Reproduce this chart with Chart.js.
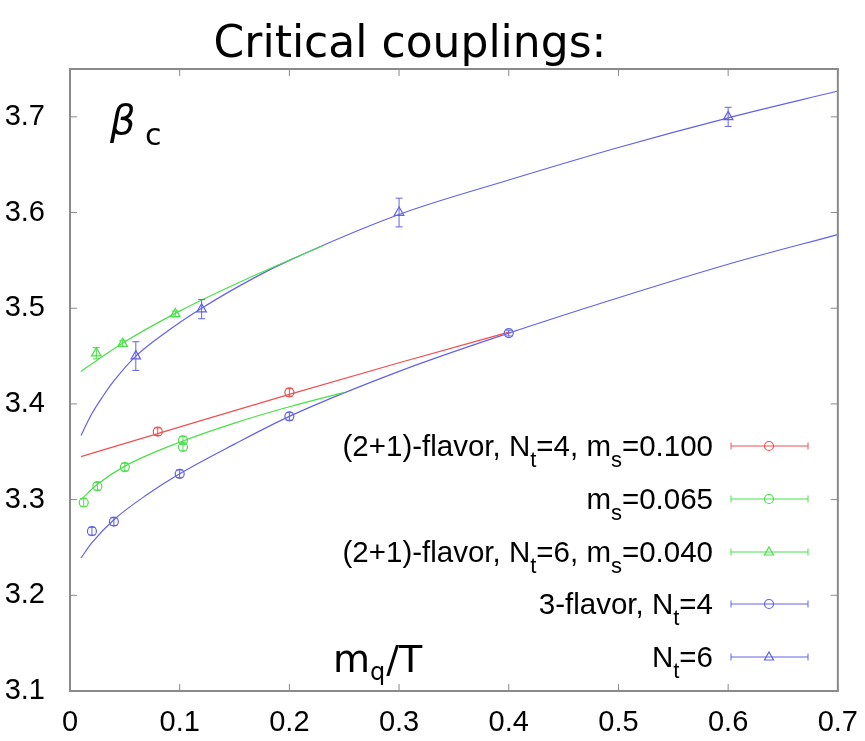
<!DOCTYPE html>
<html>
<head>
<meta charset="utf-8">
<script src="https://cdn.jsdelivr.net/npm/chart.js@4.4.0/dist/chart.umd.min.js"></script>
<style>
  html, body { margin: 0; padding: 0; background: #fff; }
  #wrap { width: 865px; height: 741px; }
</style>
</head>
<body>
<div id="wrap"><canvas id="betaChart" width="865" height="741"></canvas></div>
<script>
// axis ticks
const xTickLabels = ['0', '0.1', '0.2', '0.3', '0.4', '0.5', '0.6', '0.7'];
const yTickLabels = ['3.1', '3.2', '3.3', '3.4', '3.5', '3.6', '3.7'];

// (2+1)-flavor, Nt=4, ms=0.100  (red circles)
const redX = [0.08, 0.2];
const redY = [3.371, 3.412];
const redErr = [0.004, 0.004];
const redFitX = [0.01, 0.08, 0.2, 0.3, 0.4];
const redFitY = [3.345, 3.369, 3.410, 3.443, 3.475];

// ms=0.065  (green circles)
const grnCircX = [0.0125, 0.025, 0.05, 0.103, 0.103];
const grnCircY = [3.297, 3.314, 3.334, 3.362, 3.355];
const grnCircErr = [0.004, 0.004, 0.004, 0.004, 0.004];
const grnCircFitX = [0.01, 0.025, 0.05, 0.1, 0.15, 0.2, 0.25];
const grnCircFitY = [3.300, 3.316, 3.335, 3.360, 3.380, 3.397, 3.412];

// (2+1)-flavor, Nt=6, ms=0.040  (green triangles)
const grnTriX = [0.024, 0.048, 0.096];
const grnTriY = [3.453, 3.463, 3.494];
const grnTriErr = [0.006, 0.003, 0.003];
const grnTriFitX = [0.01, 0.025, 0.05, 0.1, 0.16, 0.23];
const grnTriFitY = [3.434, 3.446, 3.465, 3.497, 3.530, 3.565];

// 3-flavor, Nt=4  (blue circles)
const bluCircX = [0.02, 0.04, 0.1, 0.2, 0.4];
const bluCircY = [3.267, 3.277, 3.327, 3.387, 3.474];
const bluCircErr = [0.004, 0.004, 0.004, 0.004, 0.003];
const bluCircFitX = [0.01, 0.02, 0.04, 0.07, 0.1, 0.15, 0.2, 0.3, 0.4, 0.5, 0.6, 0.7];
const bluCircFitY = [3.239, 3.255, 3.279, 3.305, 3.327, 3.358, 3.387, 3.434, 3.474, 3.511, 3.546, 3.577];

// 3-flavor, Nt=6  (blue triangles)
const bluTriX = [0.06, 0.12, 0.3, 0.6];
const bluTriY = [3.450, 3.499, 3.600, 3.700];
const bluTriErr = [0.015, 0.01, 0.015, 0.01];
const bluTriFitX = [0.01, 0.02, 0.03, 0.04, 0.06, 0.09, 0.12, 0.17, 0.2, 0.3, 0.4, 0.5, 0.6, 0.7];
const bluTriFitY = [3.367, 3.390, 3.408, 3.424, 3.450, 3.477, 3.500, 3.533, 3.550, 3.598, 3.634, 3.668, 3.699, 3.727];

const legendLabels = [
    '(2+1)-flavor, N_t=4, m_s=0.100',
    'm_s=0.065',
    '(2+1)-flavor, N_t=6, m_s=0.040',
    '3-flavor, N_t=4',
    'N_t=6'
];

const RED = '#f05050';
const GREEN = '#48e048';
const BLUE = '#6262e6';
const SANS = '"Liberation Sans", Arial, sans-serif';

const pts = (xs, ys) => xs.map((x, i) => ({ x: x, y: ys[i] }));

function fitSet(xs, ys, color) {
    return {
        data: pts(xs, ys),
        showLine: true,
        borderColor: color,
        borderWidth: 1.2,
        pointRadius: 0,
        cubicInterpolationMode: 'monotone',
        fill: false
    };
}

function pointSet(xs, ys, errs, color, style) {
    return {
        data: pts(xs, ys),
        errs: errs,
        showLine: false,
        borderColor: color,
        backgroundColor: 'rgba(0,0,0,0)',
        borderWidth: 1.2,
        pointStyle: style,
        pointRadius: style === 'triangle' ? 5.5 : 4.5
    };
}

const seriesInfo = [
    { color: RED, style: 'circle' },
    { color: GREEN, style: 'circle' },
    { color: GREEN, style: 'triangle' },
    { color: BLUE, style: 'circle' },
    { color: BLUE, style: 'triangle' }
];

// draw a text with _x subscripts, right aligned at xr
function drawSubText(ctx, str, xr, yBase, size, subSize, family) {
    const parts = str.split(/_(\w)/);
    const items = parts.map((p, i) => ({ t: p, sub: i % 2 === 1 }));
    let total = 0;
    items.forEach(it => {
        ctx.font = (it.sub ? subSize : size) + 'px ' + family;
        it.w = ctx.measureText(it.t).width;
        total += it.w;
    });
    let x = xr - total;
    items.forEach(it => {
        ctx.font = (it.sub ? subSize : size) + 'px ' + family;
        ctx.fillText(it.t, x, yBase + (it.sub ? size * 0.36 : 0));
        x += it.w;
    });
}

function drawMarker(ctx, style, x, y, r) {
    ctx.beginPath();
    if (style === 'circle') {
        ctx.arc(x, y, r, 0, Math.PI * 2);
    } else {
        ctx.moveTo(x, y - r);
        ctx.lineTo(x + r * 0.9, y + r * 0.6);
        ctx.lineTo(x - r * 0.9, y + r * 0.6);
        ctx.closePath();
    }
    ctx.stroke();
}

const decorPlugin = {
    id: 'decor',
    beforeDraw(chart) {
        const ctx = chart.ctx;
        ctx.save();
        ctx.fillStyle = '#fff';
        ctx.fillRect(0, 0, chart.width, chart.height);
        ctx.restore();
    },
    afterDatasetsDraw(chart) {
        const ctx = chart.ctx;
        const a = chart.chartArea;
        const xs = chart.scales.x, ys = chart.scales.y;
        ctx.save();

        // error bars
        chart.data.datasets.forEach(ds => {
            if (!ds.errs) return;
            ctx.strokeStyle = ds.borderColor;
            ctx.lineWidth = 1;
            ds.data.forEach((p, i) => {
                const px = xs.getPixelForValue(p.x);
                const y1 = ys.getPixelForValue(p.y - ds.errs[i]);
                const y2 = ys.getPixelForValue(p.y + ds.errs[i]);
                ctx.beginPath();
                ctx.moveTo(px, y1); ctx.lineTo(px, y2);
                ctx.moveTo(px - 3.5, y1); ctx.lineTo(px + 3.5, y1);
                ctx.moveTo(px - 3.5, y2); ctx.lineTo(px + 3.5, y2);
                ctx.stroke();
            });
        });

        // frame and inward ticks
        ctx.strokeStyle = '#8a8a8a';
        ctx.lineWidth = 2;
        ctx.strokeRect(a.left, a.top, a.right - a.left, a.bottom - a.top);
        ctx.lineWidth = 1;
        ctx.beginPath();
        xTickLabels.forEach(t => {
            const px = xs.getPixelForValue(parseFloat(t));
            ctx.moveTo(px, a.bottom); ctx.lineTo(px, a.bottom - 7);
            ctx.moveTo(px, a.top); ctx.lineTo(px, a.top + 7);
        });
        yTickLabels.forEach(t => {
            const py = ys.getPixelForValue(parseFloat(t));
            ctx.moveTo(a.left, py); ctx.lineTo(a.left + 7, py);
            ctx.moveTo(a.right, py); ctx.lineTo(a.right - 7, py);
        });
        ctx.stroke();

        // title
        ctx.fillStyle = '#000';
        ctx.textAlign = 'center';
        ctx.textBaseline = 'alphabetic';
        ctx.font = '44px "DejaVu Sans", sans-serif';
        ctx.fillText('Critical couplings:', 410, 57);

        // beta_c
        ctx.textAlign = 'left';
        ctx.font = 'italic 40px "DejaVu Sans", sans-serif';
        ctx.fillText('\u03B2', 110, 134);
        ctx.font = '30px "DejaVu Sans", sans-serif';
        ctx.fillText('c', 145, 145);

        // m_q/T
        ctx.font = '38px "DejaVu Sans", sans-serif';
        ctx.fillText('m', 333, 672);
        const w = ctx.measureText('m').width;
        ctx.font = '24px "DejaVu Sans", sans-serif';
        ctx.fillText('q', 333 + w, 680);
        const w2 = ctx.measureText('q').width;
        ctx.font = '38px "DejaVu Sans", sans-serif';
        ctx.fillText('/T', 333 + w + w2 + 1, 672);

        // legend
        const rowY = [446, 499, 552, 604, 657];
        legendLabels.forEach((lab, i) => {
            const y = rowY[i];
            ctx.fillStyle = '#000';
            drawSubText(ctx, lab, 713, y + 10, 29.5, 22, SANS);
            ctx.strokeStyle = seriesInfo[i].color;
            ctx.lineWidth = 1;
            ctx.beginPath();
            ctx.moveTo(731, y); ctx.lineTo(808, y);
            ctx.moveTo(731, y - 3.5); ctx.lineTo(731, y + 3.5);
            ctx.moveTo(808, y - 3.5); ctx.lineTo(808, y + 3.5);
            ctx.stroke();
            ctx.lineWidth = 1.2;
            ctx.fillStyle = '#fff';
            drawMarker(ctx, seriesInfo[i].style, 769, y, seriesInfo[i].style === 'circle' ? 4.5 : 5);
        });
        ctx.restore();
    }
};

const ctx = document.getElementById('betaChart').getContext('2d');
const betaChart = new Chart(ctx, {
    type: 'scatter',
    data: {
        datasets: [
            fitSet(redFitX, redFitY, RED),
            fitSet(grnCircFitX, grnCircFitY, GREEN),
            fitSet(grnTriFitX, grnTriFitY, GREEN),
            fitSet(bluCircFitX, bluCircFitY, BLUE),
            fitSet(bluTriFitX, bluTriFitY, BLUE),
            pointSet(redX, redY, redErr, RED, 'circle'),
            pointSet(grnCircX, grnCircY, grnCircErr, GREEN, 'circle'),
            pointSet(grnTriX, grnTriY, grnTriErr, GREEN, 'triangle'),
            pointSet(bluCircX, bluCircY, bluCircErr, BLUE, 'circle'),
            pointSet(bluTriX, bluTriY, bluTriErr, BLUE, 'triangle')
        ]
    },
    options: {
        responsive: false,
        animation: false,
        layout: { padding: { top: 69, right: 22, left: 0, bottom: 0 } },
        plugins: {
            legend: { display: false },
            title: { display: false },
            tooltip: { enabled: false }
        },
        scales: {
            x: {
                type: 'linear',
                min: 0,
                max: 0.7,
                afterBuildTicks: s => { s.ticks = xTickLabels.map(t => ({ value: parseFloat(t) })); },
                afterFit: s => { s.height = 50; },
                ticks: {
                    callback: (v, i) => xTickLabels[i],
                    color: '#000',
                    font: { family: SANS, size: 29 },
                    padding: 7,
                    maxRotation: 0,
                    autoSkip: false
                },
                grid: { display: false },
                border: { display: false }
            },
            y: {
                type: 'linear',
                min: 3.1,
                max: 3.75,
                afterBuildTicks: s => { s.ticks = yTickLabels.map(t => ({ value: parseFloat(t) })); },
                afterFit: s => { s.width = 70; },
                ticks: {
                    callback: (v, i) => yTickLabels[i],
                    color: '#000',
                    font: { family: SANS, size: 29 },
                    padding: 17,
                    autoSkip: false
                },
                grid: { display: false },
                border: { display: false }
            }
        }
    },
    plugins: [decorPlugin]
});
</script>
</body>
</html>
